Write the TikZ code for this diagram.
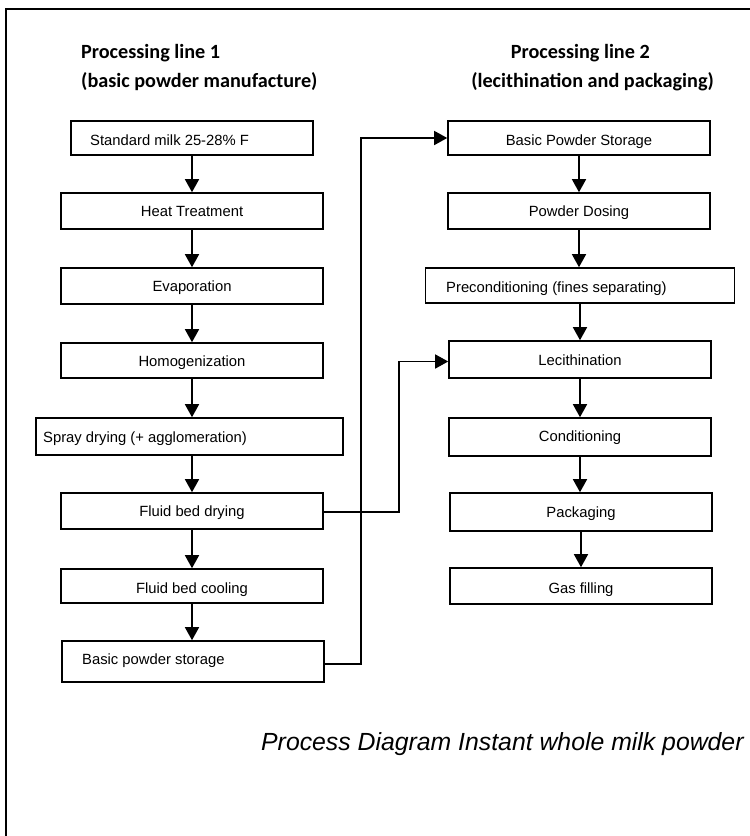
\documentclass[tikz,border=0pt]{standalone}
\usepackage{fontspec}
\setmainfont{Liberation Sans}
\newfontfamily\titlefont{Carlito}
\usetikzlibrary{arrows.meta}
\begin{document}
\begin{tikzpicture}[x=1pt,y=-1pt,
  box/.style={draw, line width=1.6pt, inner sep=0pt, minimum width=262pt, minimum height=36pt},
  txt/.style={inner sep=0pt, text height=11pt, text depth=0pt, font=\fontsize{14.8}{17}\selectfont},
  flow/.style={line width=1.5pt, -{Triangle[width=14pt,length=13pt]}},
  ttl/.style={inner sep=0pt, font=\titlefont\bfseries\fontsize{20.2}{24}\selectfont},
  captxt/.style={inner sep=0pt, font=\itshape\fontsize{24.8}{28}\selectfont}]
\useasboundingbox (0,0) rectangle (750,836);
\draw[line width=2pt] (6,850) -- (6,9) -- (770,9);

% titles
\node[ttl, anchor=base west] (t1) at (81,58) {Processing line 1};
\node[ttl, anchor=base west] (t2) at (81,87) {(basic powder manufacture)};
\node[ttl, anchor=base east] (t3) at (650,58) {Processing line 2};
\node[ttl, anchor=base east] (t4) at (714,87) {(lecithination and packaging)};

% left column
\node[box, minimum width=242pt, minimum height=34pt] (s1) at (192,138) {};
\node[txt, anchor=west] (s1t) at (90,140) {Standard milk 25-28\% F};
\node[box] (s2) at (192,211) {};
\node[txt] (s2t) at (s2) {Heat Treatment};
\node[box] (s3) at (192,286) {};
\node[txt] (s3t) at (s3) {Evaporation};
\node[box, minimum height=35pt] (s4) at (192,360.5) {};
\node[txt] (s4t) at (s4) {Homogenization};
\node[box, minimum width=307pt, minimum height=37pt] (s5) at (189.5,436.5) {};
\node[txt, anchor=west] (s5t) at (43,437) {Spray drying (+ agglomeration)};
\node[box] (s6) at (192,511) {};
\node[txt] (s6t) at (s6) {Fluid bed drying};
\node[box, minimum width=262pt, minimum height=34pt] (s7) at (192,586) {};
\node[txt] (s7t) at (192,588) {Fluid bed cooling};
\node[box, minimum height=41pt] (s8) at (193,661.5) {};
\node[txt, anchor=west] (s8t) at (82,659) {Basic powder storage};

% right column
\node[box, minimum height=34pt] (r1) at (579,138) {};
\node[txt] (r1t) at (579,140) {Basic Powder Storage};
\node[box] (r2) at (579,211) {};
\node[txt] (r2t) at (r2) {Powder Dosing};
\node[box, minimum width=309pt, minimum height=35pt] (r3) at (580,285.5) {};
\node[txt, anchor=west] (r3t) at (446,287) {Preconditioning (fines separating)};
\node[box, minimum height=37pt] (r4) at (580,359.5) {};
\node[txt] (r4t) at (r4) {Lecithination};
\node[box, minimum height=38pt] (r5) at (580,437) {};
\node[txt] (r5t) at (580,436) {Conditioning};
\node[box, minimum height=38pt] (r6) at (581,512) {};
\node[txt] (r6t) at (r6) {Packaging};
\node[box] (r7) at (581,586) {};
\node[txt] (r7t) at (581,588) {Gas filling};

% caption
\node[captxt, anchor=base west] (cp) at (261,750) {Process Diagram Instant whole milk powder};

% flows left
\foreach \a/\b in {s1/s2,s2/s3,s3/s4,s4/s5,s5/s6,s6/s7,s7/s8}
  \draw[flow] (s2.north |- \a.south) -- (s2.north |- \b.north);
% flows right
\foreach \a/\b in {r1/r2,r2/r3,r3/r4,r4/r5,r5/r6,r6/r7}
  \draw[flow] (\a.south) -- (\a.south |- \b.north);

% cross links
\draw[flow] ([yshift=-2.5pt]s8.east) -- ++(36,0) |- (r1.west);
\draw[flow] ([yshift=-1pt]s6.east) -- ++(75,0) |- ([yshift=-2pt]r4.west);
\end{tikzpicture}
\end{document}
